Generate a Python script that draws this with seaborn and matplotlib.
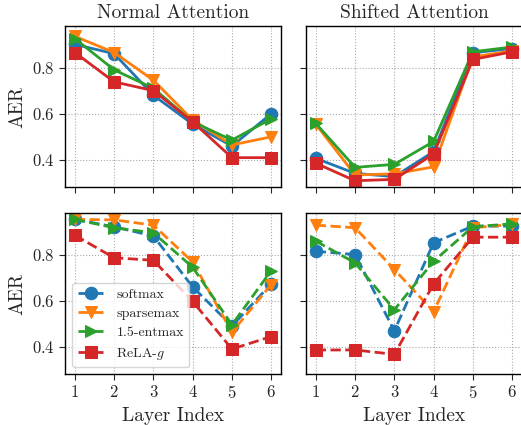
import numpy as np
import pandas as pd
import matplotlib
matplotlib.use("Agg")
import matplotlib.pyplot as plt
import seaborn as sns

sns.set_style("ticks")
plt.rcParams['font.family'] = 'serif'
plt.rcParams['font.serif'] = ['cmr10']
plt.rcParams['mathtext.fontset'] = 'cm'
plt.rcParams['axes.formatter.use_mathtext'] = True

# Layer indices and method names
layers = [1, 2, 3, 4, 5, 6]
methods = ['softmax', 'sparsemax', '1.5-entmax', 'ReLA-$g$']
colors = ['#1f77b4', '#ff7f0e', '#2ca02c', '#d62728']
markers = ['o', 'v', '>', 's']

# Top row: solid lines
normal_top = {
    'softmax':    [0.90, 0.86, 0.68, 0.555, 0.46, 0.60],
    'sparsemax':  [0.935, 0.865, 0.745, 0.573, 0.465, 0.50],
    '1.5-entmax': [0.925, 0.79, 0.71, 0.565, 0.486, 0.578],
    'ReLA-$g$':   [0.865, 0.738, 0.70, 0.565, 0.41, 0.41],
}
shifted_top = {
    'softmax':    [0.407, 0.342, 0.328, 0.436, 0.864, 0.882],
    'sparsemax':  [0.555, 0.335, 0.34, 0.37, 0.846, 0.872],
    '1.5-entmax': [0.558, 0.368, 0.381, 0.48, 0.868, 0.889],
    'ReLA-$g$':   [0.386, 0.31, 0.316, 0.426, 0.835, 0.868],
}
# Bottom row: dashed lines
normal_bottom = {
    'softmax':    [0.952, 0.92, 0.88, 0.66, 0.491, 0.673],
    'sparsemax':  [0.952, 0.95, 0.927, 0.768, 0.464, 0.67],
    '1.5-entmax': [0.952, 0.916, 0.894, 0.745, 0.496, 0.73],
    'ReLA-$g$':   [0.883, 0.786, 0.775, 0.597, 0.391, 0.445],
}
shifted_bottom = {
    'softmax':    [0.814, 0.80, 0.47, 0.851, 0.923, 0.923],
    'sparsemax':  [0.927, 0.916, 0.735, 0.553, 0.916, 0.93],
    '1.5-entmax': [0.858, 0.764, 0.561, 0.771, 0.92, 0.933],
    'ReLA-$g$':   [0.387, 0.387, 0.368, 0.673, 0.875, 0.875],
}

fig = plt.figure(figsize=(5.21, 4.25), dpi=100)
axes = [
    [fig.add_axes([0.1248, 0.56, 0.4146, 0.379]), fig.add_axes([0.5873, 0.56, 0.4146, 0.379])],
    [fig.add_axes([0.1248, 0.12, 0.4146, 0.379]), fig.add_axes([0.5873, 0.12, 0.4146, 0.379])],
]
panels = [[normal_top, shifted_top], [normal_bottom, shifted_bottom]]

for r in range(2):
    for c in range(2):
        ax = axes[r][c]
        data = panels[r][c]
        for m, col, mk in zip(methods, colors, markers):
            sns.lineplot(x=layers, y=data[m], ax=ax, color=col, marker=mk,
                         markersize=9, markeredgecolor=col, linewidth=2,
                         linestyle='-' if r == 0 else '--', label=m)
        ax.set_xlim(0.75, 6.25)
        ax.set_ylim(0.283, 0.98)
        ax.set_xticks(layers)
        ax.set_yticks([0.4, 0.6, 0.8])
        ax.grid(True, linestyle=':', color='#aaaaaa', linewidth=0.8)
        ax.tick_params(labelsize=12, direction='out', length=4)
        for s in ax.spines.values():
            s.set_linewidth(1.0)
            s.set_color('black')
        if r == 0:
            ax.set_xticklabels([])
            ax.set_xlabel('')
        else:
            ax.set_xlabel('Layer Index', fontsize=14)
        if c == 0:
            ax.set_ylabel('AER', fontsize=14)
        else:
            ax.set_yticklabels([])
            ax.set_ylabel('')
        if r == 1 and c == 0:
            ax.legend(loc='lower left', fontsize=10, handlelength=2.0,
                      labelspacing=0.45, frameon=True, framealpha=0.8)
        else:
            leg = ax.get_legend()
            if leg is not None:
                leg.remove()

axes[0][0].set_title('Normal Attention', fontsize=14)
axes[0][1].set_title('Shifted Attention', fontsize=14)

fig.savefig('out.png', dpi=100)
